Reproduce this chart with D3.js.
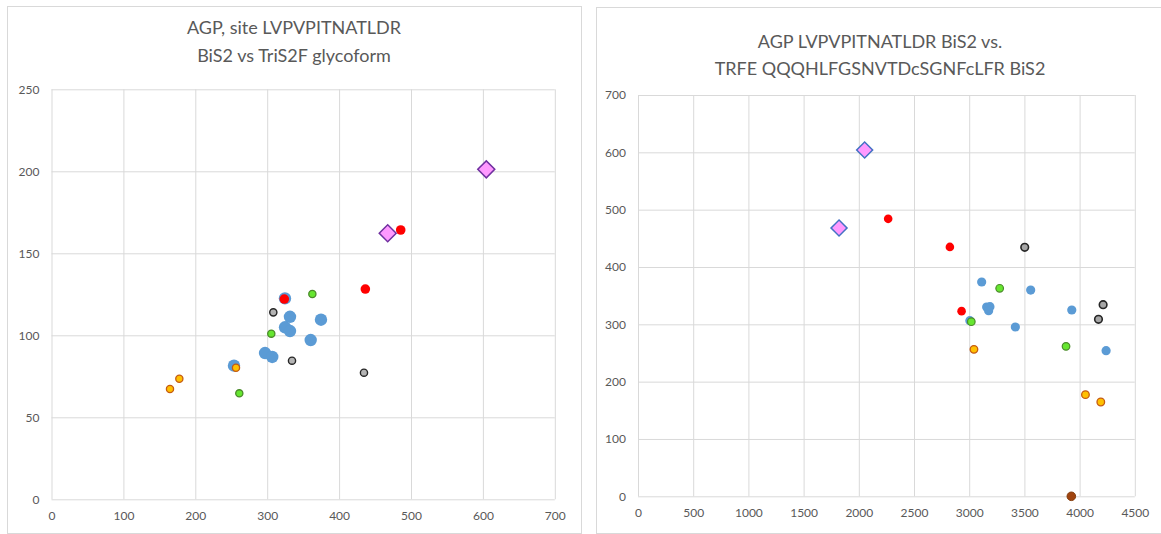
<!DOCTYPE html>
<html>
<head>
<meta charset="utf-8">
<script src="https://cdn.jsdelivr.net/npm/d3@7"></script>
<style>
  html, body { margin: 0; padding: 0; background: #fff; }
  svg { display: block; }
  .tick text { font-family: Lato, "Liberation Sans", sans-serif; font-size: 12px; fill: #595959; }
  .title { font-family: Lato, "Liberation Sans", sans-serif; font-size: 18px; fill: #595959; }
</style>
</head>
<body>
<svg id="chart" width="1161" height="534"></svg>
<script>
// ---- Left panel: AGP site LVPVPITNATLDR, BiS2 (x) vs TriS2F (y) ----
const leftTitle = ["AGP, site LVPVPITNATLDR", "BiS2 vs TriS2F glycoform"];
const leftXTicks = [0, 100, 200, 300, 400, 500, 600, 700];
const leftYTicks = [0, 50, 100, 150, 200, 250];

const leftBlue = [[253.8, 81.5], [297, 89.2], [307, 86.8], [324.7, 122.5], [324.8, 104.9],
                  [331.7, 111.3], [331.7, 102.6], [360.5, 97.1], [374.8, 109.5]];
const leftRed = [[323.8, 122.1], [436.5, 128.2], [485.7, 164.2]];
const leftGreen = [[261.2, 64.6], [305.7, 101], [362.8, 125.2]];
const leftGray = [[308.5, 114], [334.5, 84.5], [434.6, 77.2]];
const leftOrange = [[164.8, 67.3], [177.8, 73.5], [256.6, 80.2]];
const leftDiamond = [[467.6, 162.2], [604.7, 201.2]];

// ---- Right panel: AGP BiS2 vs TRFE BiS2 ----
const rightTitle = ["AGP LVPVPITNATLDR BiS2 vs.", "TRFE QQQHLFGSNVTDcSGNFcLFR BiS2"];
const rightXTicks = [0, 500, 1000, 1500, 2000, 2500, 3000, 3500, 4000, 4500];
const rightYTicks = [0, 100, 200, 300, 400, 500, 600, 700];

const rightBlue = [[3006, 306.3], [3113, 373.8], [3158, 330], [3188, 330.7], [3176, 323.7],
                   [3418, 295.3], [3557, 359.8], [3929, 325], [4240, 254]];
const rightRed = [[2266, 484], [2825, 435], [2931, 323]];
const rightGreen = [[3019, 304.6], [3276, 362.8], [3877, 261.6]];
const rightGray = [[3503, 434.3], [4213, 334.3], [4171, 308.7]];
const rightOrange = [[3043, 256.3], [4053, 177.3], [4192, 164.5]];
const rightDiamond = [[1821, 468], [2053, 604]];
const rightBrown = [[3925, 0]];

const svg = d3.select("#chart");

function panel(cfg) {
  const g = svg.append("g");
  // chart frame
  g.append("rect")
    .attr("x", cfg.frame[0] + 0.5).attr("y", cfg.frame[1] + 0.5)
    .attr("width", cfg.frame[2]).attr("height", cfg.frame[3])
    .attr("fill", "#fff").attr("stroke", "#d9d9d9").attr("stroke-width", 1);

  const x = d3.scaleLinear().domain(cfg.xDomain).range([cfg.plot.left, cfg.plot.right]);
  const y = d3.scaleLinear().domain(cfg.yDomain).range([cfg.plot.bottom, cfg.plot.top]);

  const xAxis = g.append("g")
    .attr("transform", `translate(0,${cfg.plot.bottom})`)
    .call(d3.axisBottom(x).tickValues(cfg.xTicks).tickFormat(d3.format("d"))
      .tickSize(-(cfg.plot.bottom - cfg.plot.top)).tickPadding(12));
  const yAxis = g.append("g")
    .attr("transform", `translate(${cfg.plot.left},0)`)
    .call(d3.axisLeft(y).tickValues(cfg.yTicks).tickFormat(d3.format("d"))
      .tickSize(-(cfg.plot.right - cfg.plot.left)).tickPadding(12));
  [xAxis, yAxis].forEach(a => {
    a.select(".domain").remove();
    a.selectAll(".tick line").attr("stroke", "#d9d9d9").attr("stroke-width", 1);
  });

  // title
  const t = g.append("text").attr("class", "title").attr("text-anchor", "middle")
    .attr("x", cfg.titleX).attr("y", cfg.titleY);
  cfg.title.forEach((line, i) => {
    t.append("tspan").attr("x", cfg.titleX).attr("dy", i === 0 ? 0 : cfg.titleGap).text(line);
  });

  // series, drawn in stacking order
  cfg.series.forEach(s => {
    const layer = g.append("g");
    if (s.shape === "diamond") {
      layer.selectAll("path").data(s.data).join("path")
        .attr("d", d3.symbol(d3.symbolSquare, s.side * s.side))
        .attr("transform", d => `translate(${x(d[0])},${y(d[1])}) rotate(45)`)
        .attr("fill", s.fill).attr("stroke", s.stroke).attr("stroke-width", s.sw);
    } else {
      layer.selectAll("circle").data(s.data).join("circle")
        .attr("cx", d => x(d[0])).attr("cy", d => y(d[1])).attr("r", s.size)
        .attr("fill", s.fill).attr("stroke", s.stroke || "none").attr("stroke-width", s.sw || 0);
    }
  });
}

panel({
  frame: [7, 6, 574, 527],
  plot: { left: 51.5, right: 554.8, top: 89.3, bottom: 499.3 },
  xDomain: [0, 700], yDomain: [0, 250],
  xTicks: leftXTicks, yTicks: leftYTicks,
  title: leftTitle, titleX: 294, titleY: 34, titleGap: 28,
  series: [
    { data: leftBlue, fill: "#5b9bd5", size: 6.2 },
    { data: leftRed, fill: "#ff0000", size: 4.8 },
    { data: leftGreen, fill: "#66e630", stroke: "#4a8a2a", sw: 1.3, size: 3.6 },
    { data: leftGray, fill: "#b4b4b4", stroke: "#262626", sw: 1.4, size: 3.6 },
    { data: leftOrange, fill: "#ffc000", stroke: "#c55a11", sw: 1.3, size: 3.6 },
    { data: leftDiamond, shape: "diamond", fill: "#ff99ff", stroke: "#7030a0", sw: 1.5, side: 12 }
  ]
});

panel({
  frame: [596, 7, 570, 526],
  plot: { left: 638, right: 1134.8, top: 95, bottom: 496.3 },
  xDomain: [0, 4500], yDomain: [0, 700],
  xTicks: rightXTicks, yTicks: rightYTicks,
  title: rightTitle, titleX: 880, titleY: 48, titleGap: 27,
  series: [
    { data: rightBlue, fill: "#5b9bd5", size: 4.6 },
    { data: rightRed, fill: "#ff0000", size: 4.3 },
    { data: rightGreen, fill: "#66e630", stroke: "#4a8a2a", sw: 1.2, size: 3.8 },
    { data: rightGray, fill: "#a6a6a6", stroke: "#262626", sw: 1.6, size: 3.8 },
    { data: rightOrange, fill: "#ffc000", stroke: "#c55a11", sw: 1.3, size: 3.8 },
    { data: rightDiamond, shape: "diamond", fill: "#ff99ff", stroke: "#4472c4", sw: 1.5, side: 11.3 },
    { data: rightBrown, fill: "#a0440f", stroke: "#843c0c", sw: 1, size: 4.3 }
  ]
});
</script>
</body>
</html>
